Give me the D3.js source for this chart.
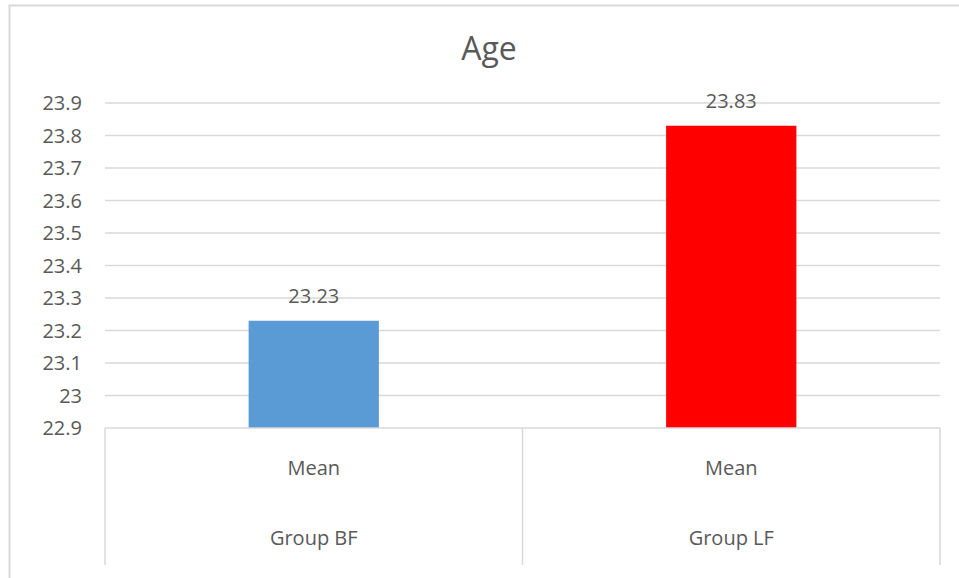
<!DOCTYPE html>
<html>
<head>
<meta charset="utf-8">
<script src="https://cdn.jsdelivr.net/npm/d3@7"></script>
<style>
  body { margin: 0; background: #fff; }
  text { font-family: "Open Sans", "Noto Sans", sans-serif; fill: #595959; }
</style>
</head>
<body>
<script>
'use strict';

const width = 959;
const height = 578;

// data
const groups = ['Group BF', 'Group LF'];
const stats = ['Mean', 'Mean'];
const values = [23.23, 23.83];
const colors = ['#5b9bd5', '#ff0000'];
const yTicks = [22.9, 23.0, 23.1, 23.2, 23.3, 23.4, 23.5, 23.6, 23.7, 23.8, 23.9];

const plot = { left: 105, right: 940, top: 103, bottom: 428, axisBottom: 565 };

let svg = d3.select('body').append('svg')
    .attr('width', width)
    .attr('height', height);

// outer chart border (cropped on right / bottom)
svg.append('rect')
    .attr('x', 9.5).attr('y', 5.5)
    .attr('width', 1000).attr('height', 1000)
    .attr('fill', 'none')
    .attr('stroke', '#d9d9d9')
    .attr('stroke-width', 2);

let y = d3.scaleLinear()
    .domain([22.9, 23.9])
    .range([plot.bottom, plot.top]);

let x = d3.scaleBand()
    .domain(groups)
    .range([plot.left, plot.right])
    .padding(0);

const barWidth = x.bandwidth() * 0.312;

// gridlines
svg.append('g')
    .selectAll('line')
    .data(yTicks.slice(1))
    .enter().append('line')
    .attr('x1', plot.left).attr('x2', plot.right)
    .attr('y1', d => y(d)).attr('y2', d => y(d))
    .attr('stroke', '#d9d9d9')
    .attr('stroke-width', 1.5);

// y tick labels
const fmt = d3.format('~');
svg.append('g')
    .selectAll('text')
    .data(yTicks)
    .enter().append('text')
    .attr('x', 82)
    .attr('y', d => y(d))
    .attr('dy', '0.35em')
    .attr('text-anchor', 'end')
    .style('font-size', '20px')
    .text(d => fmt(+d.toFixed(1)));

// bars
svg.append('g')
    .selectAll('rect')
    .data(values)
    .enter().append('rect')
    .attr('x', (d, i) => x(groups[i]) + (x.bandwidth() - barWidth) / 2)
    .attr('width', barWidth)
    .attr('y', d => y(d))
    .attr('height', d => y(22.9) - y(d))
    .attr('fill', (d, i) => colors[i]);

// value labels
svg.append('g')
    .selectAll('text')
    .data(values)
    .enter().append('text')
    .attr('x', (d, i) => x(groups[i]) + x.bandwidth() / 2)
    .attr('y', d => y(d) - 18)
    .attr('text-anchor', 'middle')
    .style('font-size', '20px')
    .text(d => d.toFixed(2));

// category axis: baseline and separators
let axis = svg.append('g')
    .attr('stroke', '#d9d9d9')
    .attr('stroke-width', 1.5);

axis.append('line')
    .attr('x1', plot.left).attr('x2', plot.right)
    .attr('y1', plot.bottom).attr('y2', plot.bottom);

const seps = [plot.left].concat(groups.map(g => x(g) + x.bandwidth()));
axis.selectAll('line.sep')
    .data(seps)
    .enter().append('line')
    .attr('class', 'sep')
    .attr('x1', d => d).attr('x2', d => d)
    .attr('y1', plot.bottom).attr('y2', plot.axisBottom);

// category labels
svg.append('g')
    .selectAll('text')
    .data(stats)
    .enter().append('text')
    .attr('x', (d, i) => x(groups[i]) + x.bandwidth() / 2)
    .attr('y', 475)
    .attr('text-anchor', 'middle')
    .style('font-size', '20px')
    .text(d => d);

svg.append('g')
    .selectAll('text')
    .data(groups)
    .enter().append('text')
    .attr('x', d => x(d) + x.bandwidth() / 2)
    .attr('y', 545)
    .attr('text-anchor', 'middle')
    .style('font-size', '20px')
    .text(d => d);

// title
svg.append('text')
    .attr('x', 489)
    .attr('y', 60)
    .attr('text-anchor', 'middle')
    .style('font-size', '32px')
    .text('Age');
</script>
</body>
</html>
